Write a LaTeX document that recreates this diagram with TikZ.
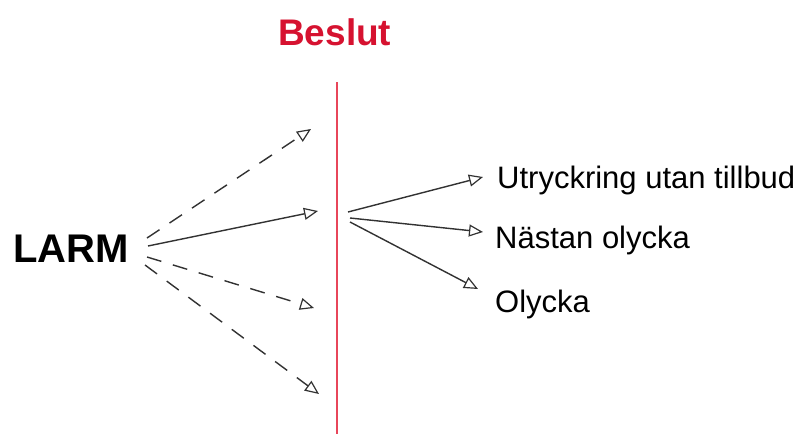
\documentclass[tikz,border=0pt]{standalone}
\usepackage{fontspec}
\setmainfont{Liberation Sans}
\usetikzlibrary{arrows.meta}
\definecolor{beslutred}{RGB}{214,18,48}
\definecolor{linered}{RGB}{232,70,90}
\definecolor{arrowgray}{RGB}{50,50,50}
\begin{document}
\begin{tikzpicture}[x=1pt,y=-1pt,
  conn/.style={draw=arrowgray, line width=1.4pt, -{Triangle[open,length=14pt,width=12pt,line width=1.2pt]}},
  dashconn/.style={conn, dash pattern=on 15pt off 12pt},
  lbl/.style={anchor=base west, inner sep=0pt, font=\fontsize{31}{31}\selectfont}]
\useasboundingbox (0,0) rectangle (806,434);
\fill[white] (0,0) rectangle (806,434);
% title and divider
\node[anchor=base west, inner sep=0pt, text=beslutred, font=\fontsize{37}{37}\selectfont\bfseries] (beslut) at (278,45) {Beslut};
\coordinate (ltop) at (337,82);
\coordinate (lbot) at (337,434);
\draw[linered, line width=2pt] (ltop) -- (lbot);
% left node
\node[anchor=base west, inner sep=0pt, font=\fontsize{40}{40}\selectfont\bfseries] (larm) at (13,262) {LARM};
\coordinate (s0) at (147,238);
\coordinate (s1) at (148,246);
\coordinate (s2) at (147,257);
\coordinate (s3) at (145,265);
\coordinate (t0) at (311,129);
\coordinate (t1) at (318,211);
\coordinate (t2) at (314,308);
\coordinate (t3) at (319,394);
\draw[dashconn] (s0) -- (t0);
\draw[conn] (s1) -- (t1);
\draw[dashconn] (s2) -- (t2);
\draw[dashconn] (s3) -- (t3);
% right branch
\node[lbl] (utr) at (497,188) {Utryckring utan tillbud};
\node[lbl] (nas) at (495,248) {Nästan olycka};
\node[lbl] (oly) at (495,312) {Olycka};
\coordinate (b0) at (348,212);
\coordinate (b1) at (350,218);
\coordinate (b2) at (350,222);
\coordinate (e0) at (483,177);
\coordinate (e1) at (483,232);
\coordinate (e2) at (478,289);
\draw[conn] (b0) -- (e0);
\draw[conn] (b1) -- (e1);
\draw[conn] (b2) -- (e2);
\end{tikzpicture}
\end{document}
